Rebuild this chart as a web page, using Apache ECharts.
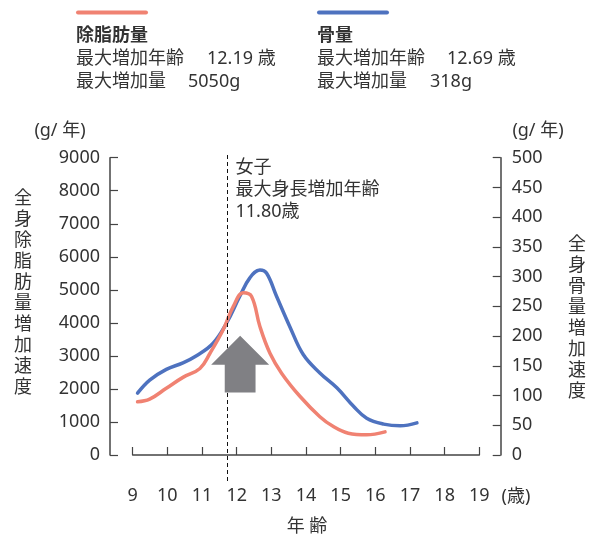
<!DOCTYPE html>
<html><head><meta charset="utf-8">
<script src="https://cdn.jsdelivr.net/npm/echarts@6/dist/echarts.min.js"></script>
<style>html,body{margin:0;padding:0;background:#fff}#c{width:596px;height:538px}</style>
</head><body><div id="c"></div>
<script>
// ---- data ----
const xMin = 9, xMax = 19;
const leftMax = 9000, leftInterval = 1000;
const rightMax = 500, rightInterval = 50;

const fatAges   = [9.14, 9.49, 9.97, 10.45, 10.94, 11.23, 11.61, 11.90, 12.19, 12.43, 12.67, 12.96, 13.30, 13.83, 14.40, 14.79, 15.22, 15.75, 16.28];
const fatValues = [1610, 1690, 2020, 2350, 2620, 3080, 3790, 4490, 4910, 4800, 3890, 3080, 2470, 1770, 1160, 860, 660, 610, 700];

const boneAges   = [9.14, 9.49, 9.97, 10.45, 10.84, 11.32, 11.71, 12.09, 12.38, 12.67, 12.86, 13.15, 13.54, 13.92, 14.40, 14.89, 15.37, 15.75, 16.24, 16.72, 17.20];
const boneValues = [104, 126, 144, 155, 167, 188, 222, 267, 298, 311, 306, 267, 215, 169, 138, 113, 82, 62, 52, 49, 54];

const phvLineAge = 11.72;            // position of dashed line as drawn
const phvLabel = ['女子', '最大身長増加年齢', '11.80歳'];
const arrowAge = 12.1, arrowTop = 3610, arrowBottom = 1890;   // left-axis units

const legendFat  = {name: '除脂肪量', age: '12.19 歳', amount: '5050g'};
const legendBone = {name: '骨量', age: '12.69 歳', amount: '318g'};

// ---- chart ----
const FONT = '"Noto Sans", "Noto Sans CJK JP"';
const FONT_ECH = 'Noto Sans, Noto Sans CJK JP';
const TXT = '#333';
const ORANGE = '#f08272';
const BLUE = '#4e72bf';
const AXIS = '#444';

const chart = echarts.init(document.getElementById('c'), null, {renderer: 'canvas'});

const pairs = (a, b) => a.map((x, i) => [x, b[i]]);
const plain = v => String(v);

chart.setOption({
  animation: false,
  textStyle: {fontFamily: FONT_ECH, color: TXT},
  grid: {left: 132.7, right: 116.7, top: 157.7, bottom: 83, containLabel: false},
  xAxis: {
    type: 'value', min: xMin, max: xMax, interval: 1, offset: 25,
    axisLine: {show: true, lineStyle: {color: AXIS, width: 1.5}},
    axisTick: {show: true, inside: true, length: 8, lineStyle: {color: AXIS, width: 1.2}},
    axisLabel: {fontSize: 18, color: TXT, margin: 7, fontFamily: FONT_ECH, formatter: plain},
    splitLine: {show: false}
  },
  yAxis: [
    {
      type: 'value', min: 0, max: leftMax, interval: leftInterval, position: 'left', offset: 22.7,
      axisLine: {show: true, lineStyle: {color: AXIS, width: 1.5}},
      axisTick: {show: true, inside: true, length: 8, lineStyle: {color: AXIS, width: 1.2}},
      axisLabel: {fontSize: 18, color: TXT, margin: 10, fontFamily: FONT_ECH, formatter: plain},
      splitLine: {show: false}
    },
    {
      type: 'value', min: 0, max: rightMax, interval: rightInterval, position: 'right', offset: 21.4,
      axisLine: {show: true, lineStyle: {color: AXIS, width: 1.5}},
      axisTick: {show: true, inside: true, length: 8, lineStyle: {color: AXIS, width: 1.2}},
      axisLabel: {fontSize: 18, color: TXT, margin: 11, fontFamily: FONT_ECH, formatter: plain},
      splitLine: {show: false}
    }
  ],
  series: [
    {
      type: 'line', yAxisIndex: 1, data: pairs(boneAges, boneValues),
      smooth: 0.4, showSymbol: false, clip: false,
      lineStyle: {color: BLUE, width: 3.5, cap: 'round'}
    },
    {
      type: 'line', yAxisIndex: 0, data: pairs(fatAges, fatValues),
      smooth: 0.4, showSymbol: false, clip: false,
      lineStyle: {color: ORANGE, width: 3.5, cap: 'round'}
    }
  ]
});

// ---- overlays derived from scales ----
const px = (age, v) => chart.convertToPixel({xAxisIndex: 0, yAxisIndex: 0}, [age, v]);
const lineX = Math.round(px(phvLineAge, 0)[0]) + 0.5;
const tip = px(arrowAge, arrowTop);
const base = px(arrowAge, arrowBottom);
const cx = tip[0];
const headH = 29, headW = 29, shaftW = 15.4;
const arrowPts = [
  [cx, tip[1]],
  [cx + headW, tip[1] + headH],
  [cx + shaftW, tip[1] + headH],
  [cx + shaftW, base[1]],
  [cx - shaftW, base[1]],
  [cx - shaftW, tip[1] + headH],
  [cx - headW, tip[1] + headH]
];

const T = (x, y, text, extra) => ({
  type: 'text', x, y,
  style: Object.assign({text, fill: TXT, font: `18px ${FONT}`, textVerticalAlign: 'middle'}, extra || {})
});

const graphics = [
  // dashed PHV line
  {type: 'line', shape: {x1: lineX, y1: 155, x2: lineX, y2: 481},
   style: {stroke: '#111', lineWidth: 1, lineDash: [4, 3]}, z: 5},
  // arrow
  {type: 'polygon', shape: {points: arrowPts}, style: {fill: '#808084'}, z: 10},
  // annotation
  T(lineX + 8, 168, phvLabel[0]),
  T(lineX + 8, 190, phvLabel[1]),
  T(lineX + 8, 212, phvLabel[2]),
  // legend lines
  {type: 'line', shape: {x1: 78, y1: 12.5, x2: 146, y2: 12.5}, style: {stroke: ORANGE, lineWidth: 4, lineCap: 'round'}},
  {type: 'line', shape: {x1: 319, y1: 12.5, x2: 387, y2: 12.5}, style: {stroke: BLUE, lineWidth: 4, lineCap: 'round'}},
  // legend text
  T(76, 36, legendFat.name, {font: `bold 18px ${FONT}`}),
  T(76, 59, '最大増加年齢'),
  T(207, 59, legendFat.age),
  T(76, 82, '最大増加量'),
  T(188, 82, legendFat.amount),
  T(317, 36, legendBone.name, {font: `bold 18px ${FONT}`}),
  T(317, 59, '最大増加年齢'),
  T(447, 59, legendBone.age),
  T(317, 82, '最大増加量'),
  T(430, 82, legendBone.amount),
  // axis units
  T(60, 131, '(g/ 年)', {textAlign: 'center'}),
  T(538, 131, '(g/ 年)', {textAlign: 'center'}),
  T(516, 497, '(歳)', {textAlign: 'center'}),
  T(307, 527, '年 齢', {textAlign: 'center'}),
  // vertical titles
  {type: 'text', x: 23, y: 293, style: {text: '全\n身\n除\n脂\n肪\n量\n増\n加\n速\n度', fill: TXT,
    font: `18px ${FONT}`, lineHeight: 21, textAlign: 'center', textVerticalAlign: 'middle'}},
  {type: 'text', x: 577, y: 318, style: {text: '全\n身\n骨\n量\n増\n加\n速\n度', fill: TXT,
    font: `18px ${FONT}`, lineHeight: 21, textAlign: 'center', textVerticalAlign: 'middle'}}
];
chart.setOption({graphic: graphics});
</script></body></html>
